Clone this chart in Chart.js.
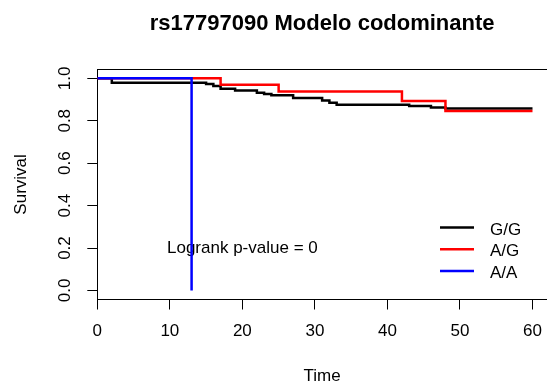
<!DOCTYPE html>
<html>
<head>
<meta charset="utf-8">
<script src="https://cdn.jsdelivr.net/npm/chart.js@4.4.0/dist/chart.umd.min.js"></script>
<style>
  html, body { margin: 0; padding: 0; background: #fff; }
  #wrap { width: 547px; height: 385px; }
</style>
</head>
<body>
<div id="wrap"><canvas id="km"></canvas></div>
<script>
// grupos y colores (igual que en la figura de R)
const groups = ['G/G', 'A/G', 'A/A'];
const groupColors = ['#000000', '#ff0000', '#0000ff'];

// curvas Kaplan-Meier
const ggTime = [0, 2, 15, 16, 17, 19, 22, 23, 24, 27, 31, 32, 33, 43, 46, 48, 60];
const ggSurv = [1, 0.979, 0.973, 0.964, 0.951, 0.943, 0.932, 0.926, 0.920, 0.907, 0.896, 0.885, 0.876, 0.869, 0.863, 0.858, 0.858];
const agTime = [0, 17, 25, 42, 48, 60];
const agSurv = [1, 0.970, 0.938, 0.893, 0.846, 0.846];
const aaTime = [0, 13];
const aaSurv = [1, 0];

const xTicks = [0, 10, 20, 30, 40, 50, 60];
const yTicks = [0, 0.2, 0.4, 0.6, 0.8, 1];
const pText = 'Logrank p-value = 0';
const pPos = { x: 20, y: 0.2 };

const FONT = '"Liberation Sans", Arial, sans-serif';

const toPoints = (t, s) => t.map((v, i) => ({ x: v, y: s[i] }));

const curve = (i, t, s) => ({
  label: groups[i],
  data: toPoints(t, s),
  borderColor: groupColors[i],
  borderWidth: 2.5,
  pointRadius: 0,
  stepped: true,
  fill: false,
  showLine: true,
});

// sin margen extra por las etiquetas de los extremos
const noPad = s => { s.paddingLeft = 0; s.paddingRight = 0; s.paddingTop = 0; s.paddingBottom = 0; };

// texto del logrank y leyenda (dibujados a mano como en R)
const notes = {
  id: 'notes',
  beforeDatasetsDraw(chart) {
    const { ctx, scales: { x, y } } = chart;
    ctx.save();
    ctx.font = '17px ' + FONT;
    ctx.fillStyle = '#000';
    ctx.textAlign = 'center';
    ctx.textBaseline = 'middle';
    ctx.fillText(pText, x.getPixelForValue(pPos.x), y.getPixelForValue(pPos.y));
    ctx.restore();
  },
  afterDatasetsDraw(chart) {
    const { ctx } = chart;
    const x0 = 440, x1 = 474, tx = 490;
    ctx.save();
    ctx.font = '17px ' + FONT;
    ctx.textAlign = 'left';
    ctx.textBaseline = 'middle';
    groups.forEach((g, i) => {
      const yy = 227.5 + i * 21.8;
      ctx.strokeStyle = groupColors[i];
      ctx.lineWidth = 2.5;
      ctx.beginPath();
      ctx.moveTo(x0, yy);
      ctx.lineTo(x1, yy);
      ctx.stroke();
      ctx.fillStyle = '#000';
      ctx.fillText(g, tx, yy + 2.5);
    });
    ctx.restore();
  }
};

new Chart(document.getElementById('km'), {
  type: 'scatter',
  data: {
    datasets: [
      curve(2, aaTime, aaSurv),
      curve(1, agTime, agSurv),
      curve(0, ggTime, ggSurv),
    ],
  },
  options: {
    responsive: true,
    maintainAspectRatio: false,
    animation: false,
    layout: { padding: 0 },
    plugins: {
      legend: { display: false },
      tooltip: { enabled: false },
      title: {
        display: true,
        fullSize: false,
        text: 'rs17797090 Modelo codominante',
        color: '#000',
        font: { family: FONT, size: 22, weight: 'bold', lineHeight: 1.2 },
        padding: { top: 10.8, bottom: 32.1 },
      },
    },
    scales: {
      x: {
        type: 'linear',
        position: 'bottom',
        min: 0,
        max: 62,
        afterFit: s => { s.height = 85.5; noPad(s); },
        afterBuildTicks: s => { s.ticks = xTicks.map(v => ({ value: v })); },
        grid: { drawOnChartArea: false, drawTicks: true, tickLength: 10, tickColor: '#000' },
        border: { display: true, color: '#000', width: 1 },
        ticks: { color: '#000', font: { family: FONT, size: 17 }, padding: 12, maxRotation: 0 },
        title: { display: true, text: 'Time', color: '#000', font: { family: FONT, size: 17, lineHeight: 1 }, padding: 0 },
      },
      xTop: {
        type: 'linear',
        position: 'top',
        min: 0,
        max: 62,
        afterFit: s => { s.height = 0; noPad(s); },
        grid: { display: false },
        border: { display: true, color: '#000', width: 1 },
        ticks: { display: false },
      },
      y: {
        type: 'linear',
        position: 'left',
        min: -0.0425,
        max: 1.0425,
        afterFit: s => { s.width = 97.3; noPad(s); },
        afterBuildTicks: s => { s.ticks = yTicks.map(v => ({ value: v })); },
        grid: { drawOnChartArea: false, drawTicks: true, tickLength: 10, tickColor: '#000' },
        border: { display: true, color: '#000', width: 1 },
        ticks: {
          color: '#000',
          font: { family: FONT, size: 17 },
          padding: 10.5,
          minRotation: 90,
          maxRotation: 90,
          crossAlign: 'center',
          callback: v => v.toFixed(1),
        },
        title: { display: true, text: 'Survival', color: '#000', font: { family: FONT, size: 17, lineHeight: 1 }, padding: { top: 13 } },
      },
    },
  },
  plugins: [notes],
});
</script>
</body>
</html>
